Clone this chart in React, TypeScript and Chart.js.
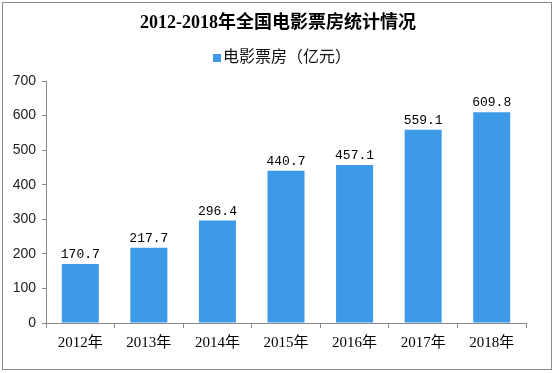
import React, { useEffect, useRef } from "react";
import { Chart, registerables } from "chart.js";

Chart.register(...registerables);

const categories = ["2012年", "2013年", "2014年", "2015年", "2016年", "2017年", "2018年"];
const boxOffice = [170.7, 217.7, 296.4, 440.7, 457.1, 559.1, 609.8];
const titleText = "2012-2018年全国电影票房统计情况";
const legendText = "电影票房（亿元）";
const yMin = 0;
const yMax = 700;
const yStep = 100;

const BAR_COLOR = "#3d9ae9";
const SERIF = "'Liberation Serif', 'Noto Sans CJK SC', serif";
const SANS = "'Liberation Sans', 'Noto Sans CJK SC', sans-serif";
const MONO = "'Liberation Mono', 'DejaVu Sans Mono', monospace";

const decorPlugin = {
  id: "decor",
  beforeDraw(chart: any) {
    const ctx = chart.ctx;
    ctx.save();
    ctx.fillStyle = "#ffffff";
    ctx.fillRect(0, 0, chart.width, chart.height);
    ctx.strokeStyle = "#8c8c8c";
    ctx.lineWidth = 1;
    ctx.strokeRect(2.5, 2.5, 549, 367);
    // title
    ctx.fillStyle = "#000000";
    ctx.font = `bold 18px ${SERIF}`;
    ctx.textAlign = "center";
    ctx.textBaseline = "middle";
    ctx.fillText(titleText, 278, 23);
    // legend
    ctx.fillStyle = BAR_COLOR;
    ctx.fillRect(213, 54, 8, 8);
    ctx.fillStyle = "#111111";
    ctx.font = `16px ${SANS}`;
    ctx.textAlign = "left";
    ctx.fillText(legendText, 223, 58);
    ctx.restore();
  },
  afterDatasetsDraw(chart: any) {
    const ctx = chart.ctx;
    const meta = chart.getDatasetMeta(0);
    ctx.save();
    ctx.fillStyle = "#000000";
    ctx.font = `13px ${MONO}`;
    ctx.textAlign = "center";
    ctx.textBaseline = "alphabetic";
    meta.data.forEach((el: any, i: number) => {
      const v = chart.data.datasets[0].data[i] as number;
      ctx.fillText(v.toFixed(1), el.x, el.y - 6);
    });
    ctx.restore();
  },
};

export default function App() {
  const ref = useRef<HTMLCanvasElement | null>(null);
  useEffect(() => {
    if (!ref.current) return;
    const chart = new Chart(ref.current, {
      type: "bar",
      data: {
        labels: categories,
        datasets: [
          {
            label: legendText,
            data: boxOffice,
            backgroundColor: BAR_COLOR,
            borderWidth: 0,
            barPercentage: 0.54,
            categoryPercentage: 1,
          },
        ],
      },
      options: {
        animation: false,
        responsive: false,
        maintainAspectRatio: false,
        devicePixelRatio: 1,
        layout: { padding: { top: 81, right: 30, left: 0, bottom: 0 } },
        plugins: {
          legend: { display: false },
          title: { display: false },
          tooltip: { enabled: false },
        },
        scales: {
          x: {
            offset: true,
            grid: {
              offset: true,
              drawOnChartArea: false,
              drawTicks: true,
              tickLength: 5,
              color: "#888888",
            },
            border: { color: "#888888" },
            ticks: {
              color: "#000000",
              font: { family: SERIF, size: 15 },
              padding: 6,
              maxRotation: 0,
            },
            afterFit(scale: any) {
              scale.height = 50;
            },
          },
          y: {
            min: yMin,
            max: yMax,
            grid: {
              drawOnChartArea: false,
              drawTicks: true,
              tickLength: 4,
              color: "#888888",
            },
            border: { color: "#888888" },
            ticks: {
              stepSize: yStep,
              color: "#222222",
              font: { family: SANS, size: 14 },
              padding: 6,
            },
            afterFit(scale: any) {
              scale.width = 46;
            },
          },
        },
      },
      plugins: [decorPlugin],
    });
    return () => chart.destroy();
  }, []);
  return (
    <div style={{ position: "fixed", left: 0, top: 0, width: 556, height: 373 }}>
      <canvas ref={ref} width={556} height={373} style={{ display: "block", width: 556, height: 373 }} />
    </div>
  );
}
